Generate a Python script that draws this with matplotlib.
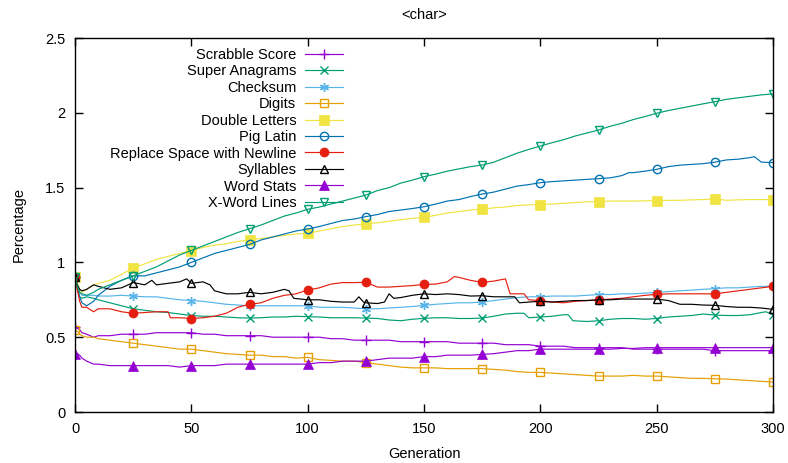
import numpy as np
import matplotlib
matplotlib.use("Agg")
import matplotlib.pyplot as plt

plt.rcParams['font.family'] = ['Liberation Sans', 'DejaVu Sans']

title = "<char>"
xlabel = "Generation"
ylabel = "Percentage"

G = [0, 1, 2, 3, 5, 8, 10] + list(range(15, 301, 5))

scrabble_x = G
scrabble_y = [0.57, 0.56, 0.55, 0.53, 0.52, 0.50, 0.51, 0.51, 0.52, 0.52, 0.52, 0.53, 0.53, 0.53, 0.53,
              0.52, 0.52, 0.51, 0.51, 0.51, 0.51, 0.50, 0.50, 0.50, 0.50, 0.50, 0.49, 0.49, 0.48, 0.48,
              0.48, 0.48, 0.47, 0.47, 0.47, 0.47, 0.47, 0.46, 0.46, 0.46, 0.46, 0.45, 0.45, 0.45, 0.44,
              0.44, 0.44, 0.43, 0.43, 0.43, 0.43, 0.43, 0.42, 0.42, 0.42, 0.42, 0.42, 0.42, 0.42, 0.41,
              0.41, 0.41, 0.41, 0.41, 0.41]

anagrams_x = [0, 1, 2, 3, 5, 8, 10, 15, 20, 25, 30, 35, 40, 45, 50, 55, 60, 65, 70, 75, 80, 85, 90, 95,
              100, 105, 110, 115, 120, 125, 130, 135, 140, 145, 150, 155, 160, 165, 170, 175, 180, 185,
              190, 193, 195, 200, 205, 210, 212, 214, 220, 225, 230, 235, 240, 245, 250, 255, 260, 265,
              270, 275, 280, 285, 290, 295, 297, 300]
anagrams_y = [0.90, 0.82, 0.77, 0.76, 0.77, 0.76, 0.75, 0.73, 0.71, 0.69, 0.68, 0.67, 0.665, 0.655, 0.645,
              0.64, 0.64, 0.635, 0.63, 0.628, 0.63, 0.635, 0.635, 0.64, 0.637, 0.635, 0.63, 0.63, 0.63,
              0.628, 0.625, 0.615, 0.61, 0.62, 0.626, 0.63, 0.63, 0.625, 0.625, 0.628, 0.64, 0.655, 0.66,
              0.66, 0.63, 0.635, 0.64, 0.65, 0.65, 0.61, 0.605, 0.61, 0.62, 0.625, 0.625, 0.62, 0.625,
              0.635, 0.64, 0.645, 0.655, 0.648, 0.645, 0.645, 0.65, 0.665, 0.67, 0.65]

checksum_x = G
checksum_y = [0.90, 0.85, 0.80, 0.78, 0.78, 0.78, 0.775, 0.775, 0.78, 0.775, 0.77, 0.77, 0.76, 0.75, 0.745,
              0.74, 0.73, 0.72, 0.715, 0.71, 0.71, 0.71, 0.71, 0.71, 0.71, 0.70, 0.70, 0.70, 0.695, 0.69,
              0.69, 0.695, 0.70, 0.705, 0.713, 0.72, 0.725, 0.73, 0.73, 0.735, 0.745, 0.755, 0.765, 0.77,
              0.77, 0.775, 0.775, 0.775, 0.78, 0.785, 0.785, 0.79, 0.79, 0.795, 0.80, 0.805, 0.81, 0.815,
              0.82, 0.825, 0.83, 0.83, 0.835, 0.84, 0.84]

digits_x = G
digits_y = [0.55, 0.54, 0.52, 0.51, 0.50, 0.50, 0.49, 0.48, 0.47, 0.46, 0.45, 0.44, 0.43, 0.42, 0.42,
            0.41, 0.40, 0.39, 0.385, 0.38, 0.38, 0.37, 0.37, 0.36, 0.365, 0.35, 0.345, 0.34, 0.34, 0.33,
            0.32, 0.31, 0.30, 0.295, 0.295, 0.295, 0.29, 0.29, 0.29, 0.29, 0.285, 0.28, 0.27, 0.265,
            0.265, 0.26, 0.255, 0.25, 0.245, 0.24, 0.24, 0.24, 0.245, 0.24, 0.24, 0.235, 0.23, 0.225,
            0.225, 0.222, 0.22, 0.215, 0.21, 0.205, 0.20]

double_x = G
double_y = [0.90, 0.86, 0.82, 0.80, 0.82, 0.85, 0.86, 0.88, 0.92, 0.963, 0.99, 1.02, 1.04, 1.06, 1.078,
            1.10, 1.115, 1.125, 1.14, 1.15, 1.16, 1.17, 1.18, 1.19, 1.194, 1.21, 1.225, 1.24, 1.25, 1.257,
            1.265, 1.275, 1.285, 1.295, 1.301, 1.315, 1.33, 1.34, 1.35, 1.355, 1.365, 1.37, 1.38, 1.385,
            1.386, 1.39, 1.395, 1.40, 1.405, 1.406, 1.41, 1.41, 1.41, 1.412, 1.412, 1.415, 1.415, 1.418,
            1.42, 1.425, 1.415, 1.418, 1.42, 1.42, 1.42]

pig_x = [0, 1, 2, 3, 5, 8, 10, 15, 20, 25, 30, 35, 40, 45, 50, 55, 60, 65, 70, 75, 80, 85, 90, 95, 100,
         105, 110, 115, 120, 125, 130, 135, 140, 145, 150, 155, 160, 165, 170, 175, 180, 185, 190, 195,
         200, 205, 210, 215, 220, 225, 230, 235, 238, 240, 245, 250, 255, 260, 265, 270, 275, 280, 285,
         290, 292, 295, 300]
pig_y = [0.90, 0.83, 0.77, 0.73, 0.71, 0.74, 0.78, 0.84, 0.88, 0.91, 0.91, 0.93, 0.95, 0.97, 1.00, 1.03,
         1.06, 1.08, 1.10, 1.12, 1.15, 1.17, 1.19, 1.21, 1.223, 1.24, 1.26, 1.28, 1.29, 1.306, 1.32, 1.34,
         1.35, 1.36, 1.372, 1.39, 1.41, 1.42, 1.44, 1.457, 1.47, 1.49, 1.51, 1.52, 1.533, 1.54, 1.545,
         1.55, 1.555, 1.56, 1.565, 1.58, 1.60, 1.60, 1.61, 1.622, 1.64, 1.65, 1.655, 1.66, 1.67, 1.685,
         1.69, 1.70, 1.707, 1.67, 1.667]

replace_x = [0, 1, 2, 3, 5, 8, 10, 15, 20, 25, 30, 35, 40, 41, 45, 50, 55, 60, 65, 70, 75, 80, 85, 90,
             95, 100, 105, 110, 115, 120, 125, 130, 135, 140, 145, 150, 155, 160, 163, 165, 170, 175,
             180, 185, 187, 193, 195, 200, 205, 210, 215, 220, 225, 230, 235, 240, 245, 250, 255, 260,
             265, 270, 275, 280, 285, 290, 295, 300]
replace_y = [0.90, 0.82, 0.74, 0.70, 0.70, 0.67, 0.69, 0.69, 0.67, 0.66, 0.665, 0.67, 0.67, 0.63, 0.63,
             0.625, 0.63, 0.64, 0.66, 0.70, 0.72, 0.73, 0.76, 0.78, 0.79, 0.815, 0.83, 0.855, 0.865,
             0.865, 0.867, 0.835, 0.835, 0.84, 0.845, 0.853, 0.855, 0.87, 0.905, 0.90, 0.88, 0.867,
             0.875, 0.89, 0.79, 0.79, 0.75, 0.745, 0.735, 0.73, 0.74, 0.745, 0.75, 0.755, 0.76, 0.77,
             0.78, 0.787, 0.79, 0.79, 0.79, 0.79, 0.79, 0.80, 0.81, 0.82, 0.83, 0.84]

syll_x = [0, 1, 2, 3, 5, 8, 10, 15, 20, 25, 30, 33, 35, 40, 45, 48, 50, 55, 58, 60, 65, 70, 75, 80, 85,
          90, 92, 94, 100, 105, 110, 115, 120, 122, 124, 125, 130, 133, 135, 137, 140, 145, 150, 155,
          160, 165, 170, 175, 180, 185, 189, 191, 195, 200, 205, 210, 215, 220, 225, 230, 235, 240, 245,
          250, 255, 260, 265, 270, 275, 280, 285, 290, 295, 300]
syll_y = [0.90, 0.85, 0.82, 0.81, 0.82, 0.85, 0.84, 0.82, 0.83, 0.865, 0.85, 0.88, 0.85, 0.86, 0.87,
          0.89, 0.86, 0.87, 0.85, 0.81, 0.79, 0.79, 0.80, 0.79, 0.80, 0.82, 0.81, 0.76, 0.75, 0.75, 0.74,
          0.735, 0.735, 0.77, 0.735, 0.73, 0.725, 0.735, 0.79, 0.76, 0.765, 0.78, 0.79, 0.785, 0.79,
          0.785, 0.775, 0.777, 0.77, 0.77, 0.77, 0.73, 0.735, 0.74, 0.735, 0.74, 0.745, 0.745, 0.75,
          0.75, 0.755, 0.755, 0.755, 0.755, 0.745, 0.72, 0.72, 0.715, 0.713, 0.705, 0.70, 0.70, 0.695,
          0.686]

wordstats_x = G
wordstats_y = [0.39, 0.39, 0.38, 0.36, 0.34, 0.32, 0.32, 0.31, 0.31, 0.31, 0.31, 0.31, 0.31, 0.30, 0.31,
               0.31, 0.31, 0.32, 0.32, 0.32, 0.32, 0.32, 0.32, 0.32, 0.32, 0.33, 0.33, 0.34, 0.34, 0.34,
               0.35, 0.36, 0.36, 0.36, 0.37, 0.37, 0.38, 0.38, 0.38, 0.385, 0.39, 0.40, 0.41, 0.41, 0.42,
               0.42, 0.42, 0.42, 0.42, 0.42, 0.42, 0.425, 0.425, 0.43, 0.43, 0.43, 0.43, 0.43, 0.43,
               0.43, 0.43, 0.43, 0.43, 0.43, 0.43]

xword_x = G
xword_y = [0.90, 0.84, 0.80, 0.79, 0.78, 0.80, 0.82, 0.85, 0.88, 0.91, 0.94, 0.97, 1.01, 1.05, 1.08,
           1.11, 1.14, 1.17, 1.20, 1.225, 1.25, 1.28, 1.31, 1.33, 1.355, 1.37, 1.39, 1.41, 1.43, 1.45,
           1.48, 1.50, 1.53, 1.55, 1.573, 1.59, 1.61, 1.625, 1.64, 1.651, 1.67, 1.70, 1.73, 1.755, 1.778,
           1.80, 1.82, 1.845, 1.865, 1.885, 1.91, 1.93, 1.955, 1.975, 1.997, 2.015, 2.03, 2.045, 2.06,
           2.074, 2.09, 2.10, 2.11, 2.12, 2.126]

series_names = ["Scrabble Score", "Super Anagrams", "Checksum", "Digits", "Double Letters",
                "Pig Latin", "Replace Space with Newline", "Syllables", "Word Stats", "X-Word Lines"]
series_x = [scrabble_x, anagrams_x, checksum_x, digits_x, double_x, pig_x, replace_x, syll_x,
            wordstats_x, xword_x]
series_y = [scrabble_y, anagrams_y, checksum_y, digits_y, double_y, pig_y, replace_y, syll_y,
            wordstats_y, xword_y]

colors = ["#9400d3", "#009e73", "#56b4e9", "#e69f00", "#f0e442", "#0072b2", "#e51e10", "#000000",
          "#9400d3", "#009e73"]
styles = [
    dict(marker="+", ms=6.5, mfc="none", mew=1.0),
    dict(marker="x", ms=5.5, mfc="none", mew=1.0),
    dict(marker=(6, 2, 0), ms=6.5, mfc="none", mew=1.0),
    dict(marker="s", ms=5.5, mfc="none", mew=1.0),
    dict(marker="s", ms=6.5, mew=0.5),
    dict(marker="o", ms=6, mfc="none", mew=1.0),
    dict(marker="o", ms=6.5, mew=0.5),
    dict(marker="^", ms=6, mfc="none", mew=1.0),
    dict(marker="^", ms=6.5, mew=0.5),
    dict(marker="v", ms=6, mfc="none", mew=1.0),
]

fig = plt.figure(figsize=(7.88, 4.63), dpi=100)
ax = fig.add_axes([75 / 788, 1 - 412 / 463, 698 / 788, 374 / 463])

for name, xs, ys, c, st in zip(series_names, series_x, series_y, colors, styles):
    idx = [i for i, g in enumerate(xs) if g % 25 == 0]
    ax.plot(xs, ys, color=c, lw=0.85, markevery=idx, mec=c,
            mfc=st.get("mfc", c), marker=st["marker"], ms=st["ms"], mew=st["mew"], label=name)

ax.set_xlim(0, 300)
ax.set_ylim(0, 2.5)
ax.set_xticks(np.arange(0, 301, 50))
ax.set_yticks(np.arange(0, 2.51, 0.5))
ax.set_yticklabels(["0", "0.5", "1", "1.5", "2", "2.5"])
ax.tick_params(direction="in", length=6, width=1, top=True, right=True, labelsize=10.5, pad=7)
for s in ax.spines.values():
    s.set_linewidth(1.0)

ax.set_title(title, fontsize=10.5, pad=14)
ax.set_xlabel(xlabel, fontsize=10.5, labelpad=8)
ax.set_ylabel(ylabel, fontsize=10.5, labelpad=14)

leg = ax.legend(loc="upper right", bbox_to_anchor=((343 - 75) / 698, 0.974), frameon=False,
                markerfirst=False, fontsize=10.5, handlelength=2.6, handletextpad=0.6,
                labelspacing=0.17, borderpad=0, borderaxespad=0)

fig.savefig("out.png", dpi=100)
